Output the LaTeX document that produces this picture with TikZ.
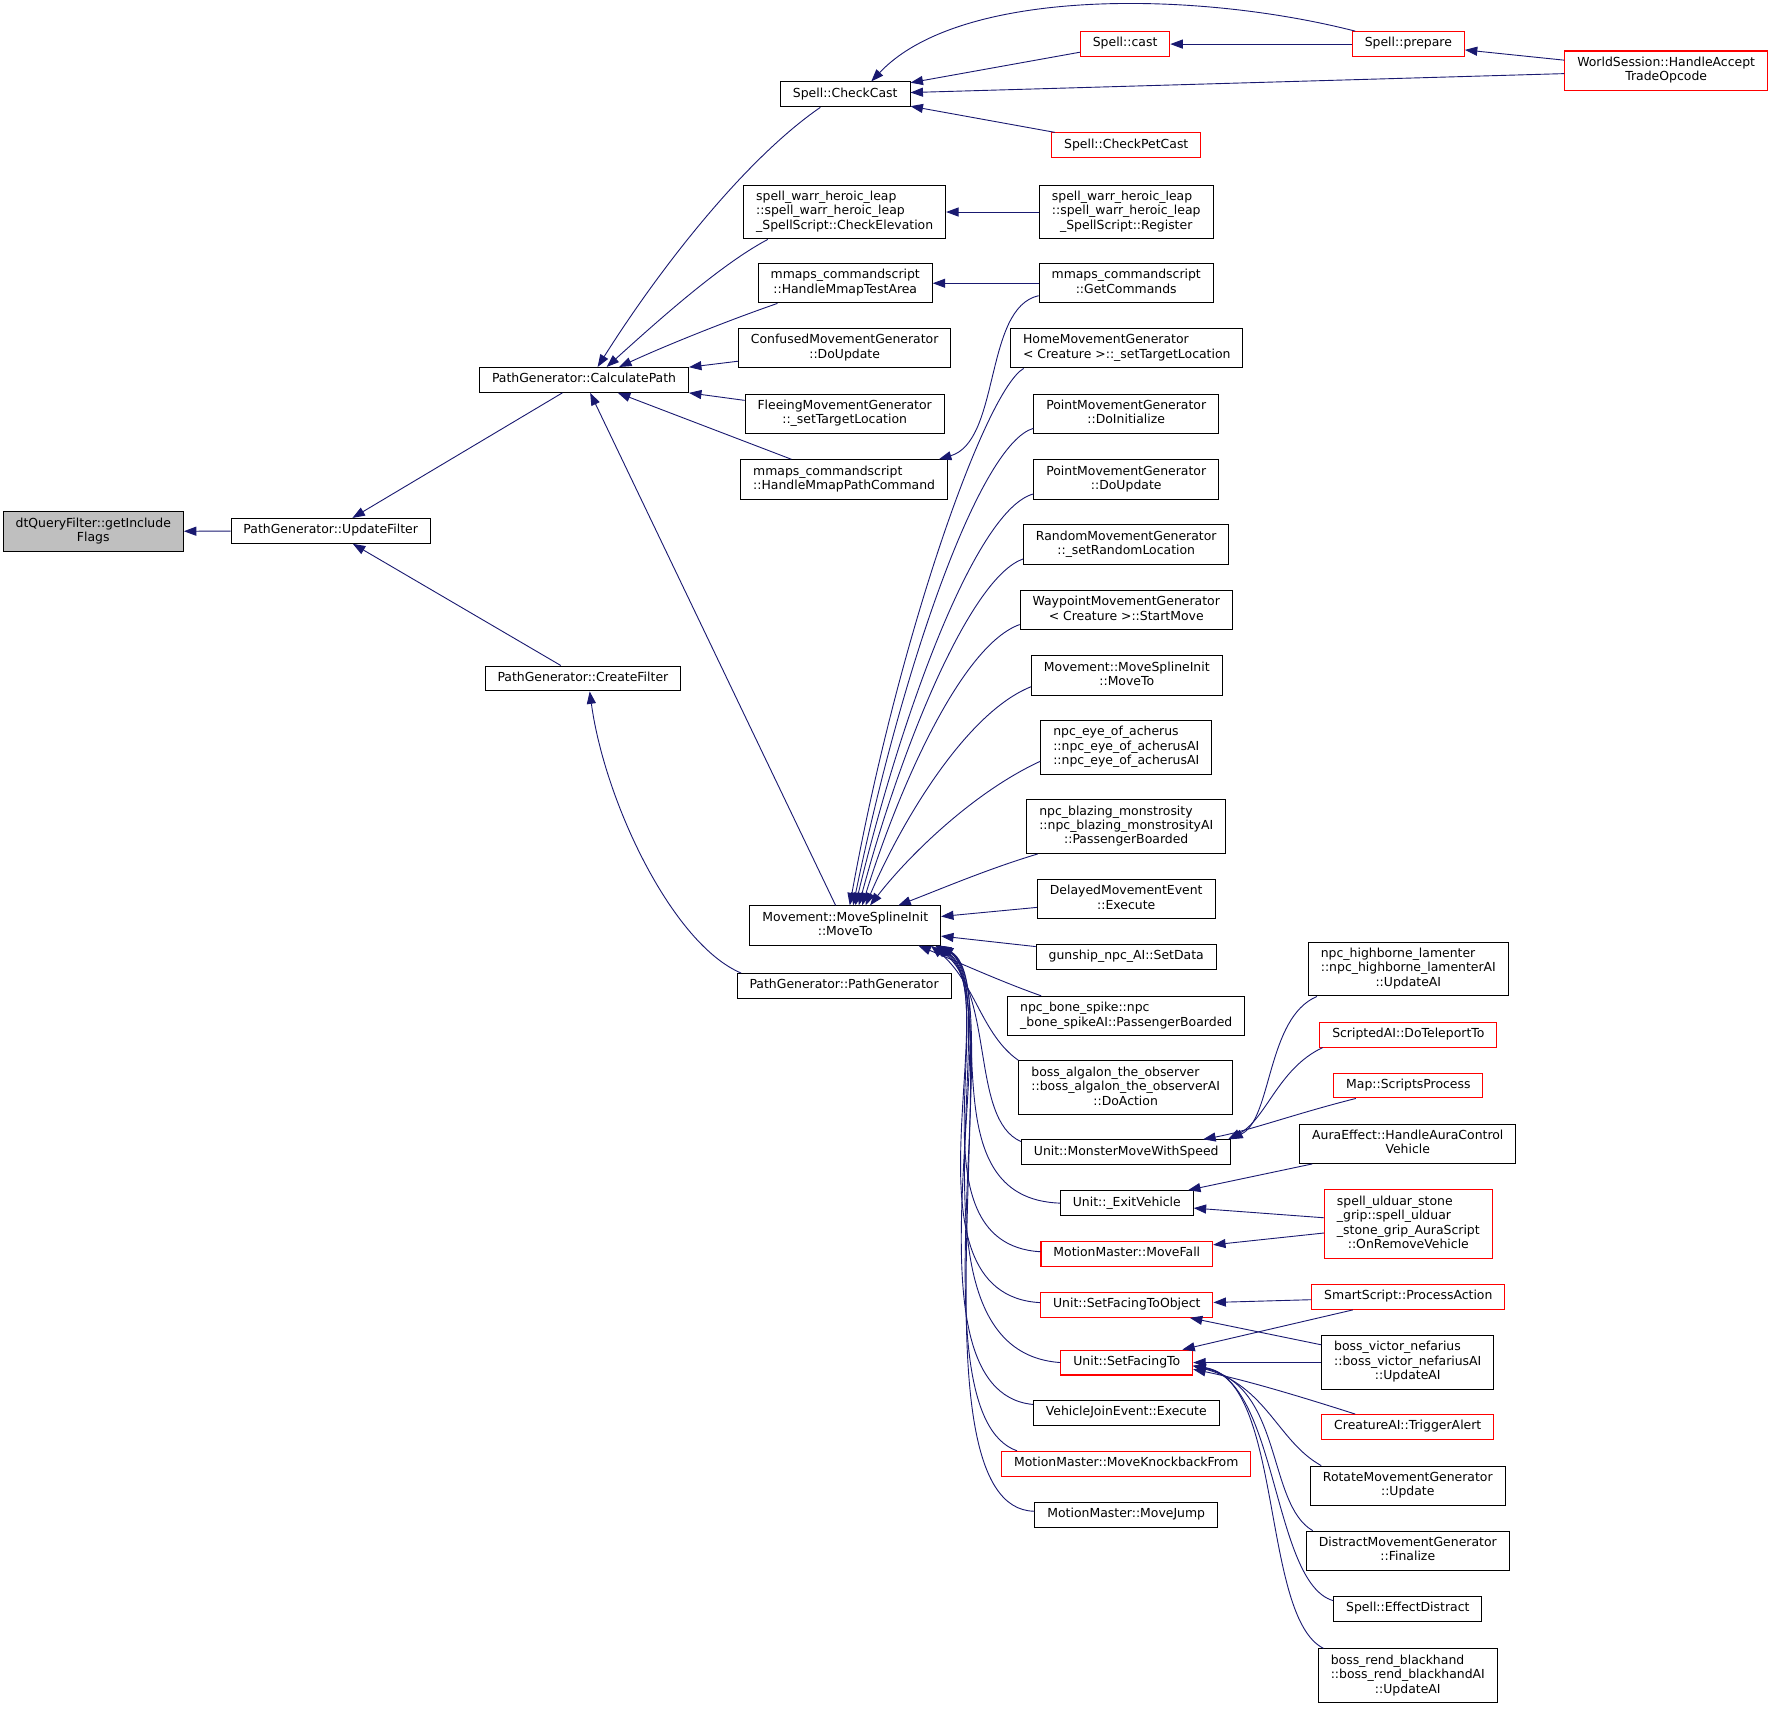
\documentclass[tikz,border=0pt]{standalone}
\usepackage{fontspec}
\setmainfont{DejaVu Sans}
\usetikzlibrary{arrows.meta}
\definecolor{callblue}{HTML}{191970}
\definecolor{rootgray}{HTML}{BFBFBF}
\newcommand{\fnl}[1]{\begin{tabular}{@{}l@{}}#1\end{tabular}}
\newcommand{\lastln}[1]{\multicolumn{1}{@{}c@{}}{#1}}
\begin{document}
\begin{tikzpicture}[x=1pt,y=-1pt]
            \tikzset{fn/.style = {draw=black, line width=0.9pt, fill=white, inner xsep=11pt, inner ysep=4.6pt,
                font=\fontsize{11}{12.8}\selectfont}}
            \tikzset{trunc/.style = {fn, draw=red}}
            \tikzset{root/.style = {fn, fill=rootgray}}
            \tikzset{calls/.style = {draw=callblue, line width=0.8pt, -{Triangle[length=11pt,width=8pt]}}}
            \useasboundingbox (0,0) rectangle (1568,1512);
            % first columns
            \node[root] (getinc) at (82.5,470) {\fnl{dtQueryFilter::getInclude\\\lastln{Flags}}};
            \node[fn] (updfilter) at (292.5,469.5) {\fnl{PathGenerator::UpdateFilter}};
            \node[fn] (calcpath) at (516.5,336) {\fnl{PathGenerator::CalculatePath}};
            \node[fn] (createfilter) at (515.5,600) {\fnl{PathGenerator::CreateFilter}};
            % callers of CalculatePath
            \node[fn] (checkcast) at (747.5,83.5) {\fnl{Spell::CheckCast}};
            \node[fn] (elevation) at (747,187.5) {\fnl{spell\_warr\_heroic\_leap\\::spell\_warr\_heroic\_leap\\\lastln{\_SpellScript::CheckElevation}}};
            \node[fn] (testarea) at (747.5,250.5) {\fnl{mmaps\_commandscript\\\lastln{::HandleMmapTestArea}}};
            \node[fn] (confused) at (747,308) {\fnl{ConfusedMovementGenerator\\\lastln{::DoUpdate}}};
            \node[fn] (fleeing) at (747,366) {\fnl{FleeingMovementGenerator\\\lastln{::\_setTargetLocation}}};
            \node[fn] (pathcmd) at (746.5,424) {\fnl{mmaps\_commandscript\\\lastln{::HandleMmapPathCommand}}};
            \node[fn] (mv) at (747.5,818.5) {\fnl{Movement::MoveSplineInit\\\lastln{::MoveTo}}};
            \node[fn] (pathgen) at (746.5,872) {\fnl{PathGenerator::PathGenerator}};
            % callers of CheckCast
            \node[trunc] (cast) at (995,39) {\fnl{Spell::cast}};
            \node[trunc] (prepare) at (1245.5,39) {\fnl{Spell::prepare}};
            \node[trunc] (accept) at (1473.5,62.5) {\fnl{WorldSession::HandleAccept\\\lastln{TradeOpcode}}};
            \node[trunc] (petcast) at (996,128.5) {\fnl{Spell::CheckPetCast}};
            \node[fn] (register) at (996,187.5) {\fnl{spell\_warr\_heroic\_leap\\::spell\_warr\_heroic\_leap\\\lastln{\_SpellScript::Register}}};
            \node[fn] (getcmds) at (996,250.5) {\fnl{mmaps\_commandscript\\\lastln{::GetCommands}}};
            % callers of MoveTo
            \node[fn] (home) at (996.5,308) {\fnl{HomeMovementGenerator\\\lastln{< Creature >::\_setTargetLocation}}};
            \node[fn] (ptinit) at (996,366) {\fnl{PointMovementGenerator\\\lastln{::DoInitialize}}};
            \node[fn] (ptupd) at (996,424) {\fnl{PointMovementGenerator\\\lastln{::DoUpdate}}};
            \node[fn] (random) at (996,481.5) {\fnl{RandomMovementGenerator\\\lastln{::\_setRandomLocation}}};
            \node[fn] (waypoint) at (996,539.5) {\fnl{WaypointMovementGenerator\\\lastln{< Creature >::StartMove}}};
            \node[fn] (mvto) at (996.5,597.5) {\fnl{Movement::MoveSplineInit\\\lastln{::MoveTo}}};
            \node[fn] (eye) at (996,661) {\fnl{npc\_eye\_of\_acherus\\::npc\_eye\_of\_acherusAI\\\lastln{::npc\_eye\_of\_acherusAI}}};
            \node[fn] (blazing) at (996,731) {\fnl{npc\_blazing\_monstrosity\\::npc\_blazing\_monstrosityAI\\\lastln{::PassengerBoarded}}};
            \node[fn] (delayed) at (996,795) {\fnl{DelayedMovementEvent\\\lastln{::Execute}}};
            \node[fn] (gunship) at (996,846) {\fnl{gunship\_npc\_AI::SetData}};
            \node[fn] (bone) at (996,898.5) {\fnl{npc\_bone\_spike::npc\\\lastln{\_bone\_spikeAI::PassengerBoarded}}};
            \node[fn] (algalon) at (995.5,962) {\fnl{boss\_algalon\_the\_observer\\::boss\_algalon\_the\_observerAI\\\lastln{::DoAction}}};
            \node[fn] (monster) at (996,1019) {\fnl{Unit::MonsterMoveWithSpeed}};
            \node[fn] (exitveh) at (996.5,1064) {\fnl{Unit::\_ExitVehicle}};
            \node[trunc] (movefall) at (996.5,1109) {\fnl{MotionMaster::MoveFall}};
            \node[trunc] (sfto) at (996.5,1154) {\fnl{Unit::SetFacingToObject}};
            \node[trunc] (sft) at (996.5,1205) {\fnl{Unit::SetFacingTo}};
            \node[fn] (vje) at (996,1249.5) {\fnl{VehicleJoinEvent::Execute}};
            \node[trunc] (knock) at (996,1294.5) {\fnl{MotionMaster::MoveKnockbackFrom}};
            \node[fn] (jump) at (996,1339.5) {\fnl{MotionMaster::MoveJump}};
            % last column
            \node[fn] (highborne) at (1245.5,857) {\fnl{npc\_highborne\_lamenter\\::npc\_highborne\_lamenterAI\\\lastln{::UpdateAI}}};
            \node[trunc] (teleport) at (1245.5,915) {\fnl{ScriptedAI::DoTeleportTo}};
            \node[trunc] (scripts) at (1245.5,960) {\fnl{Map::ScriptsProcess}};
            \node[fn] (aura) at (1245,1011.5) {\fnl{AuraEffect::HandleAuraControl\\\lastln{Vehicle}}};
            \node[trunc] (ulduar) at (1245.5,1082.5) {\fnl{spell\_ulduar\_stone\\\_grip::spell\_ulduar\\\_stone\_grip\_AuraScript\\\lastln{::OnRemoveVehicle}}};
            \node[trunc] (smart) at (1245.5,1147) {\fnl{SmartScript::ProcessAction}};
            \node[fn] (victor) at (1245,1205) {\fnl{boss\_victor\_nefarius\\::boss\_victor\_nefariusAI\\\lastln{::UpdateAI}}};
            \node[trunc] (alert) at (1245,1262) {\fnl{CreatureAI::TriggerAlert}};
            \node[fn] (rotate) at (1245,1314) {\fnl{RotateMovementGenerator\\\lastln{::Update}}};
            \node[fn] (distract) at (1245,1371.5) {\fnl{DistractMovementGenerator\\\lastln{::Finalize}}};
            \node[fn] (effdistract) at (1245,1423) {\fnl{Spell::EffectDistract}};
            \node[fn] (rend) at (1245,1482) {\fnl{boss\_rend\_blackhand\\::boss\_rend\_blackhandAI\\\lastln{::UpdateAI}}};
            % calls on the left
            \draw[calls] (updfilter) -- (getinc);
            \draw[calls] (calcpath) -- (updfilter);
            \draw[calls] (createfilter) -- (updfilter);
            \draw[calls] ([xshift=-22pt]checkcast.south) .. controls (660,140) and (585,235) .. ([xshift=12pt]calcpath.north);
            \draw[calls] ([xshift=-68pt]elevation.south) .. controls (635,235) and (575,290) .. ([xshift=20pt]calcpath.north);
            \draw[calls] ([xshift=-60pt]testarea.south) .. controls (645,283) and (590,305) .. ([xshift=31pt]calcpath.north);
            \draw[calls] (confused) -- (calcpath);
            \draw[calls] (fleeing) -- (calcpath.south east);
            \draw[calls] (pathcmd) -- (calcpath);
            \draw[calls] (mv) -- (calcpath);
            \draw[calls] ([xshift=4pt]pathgen.north west) .. controls (595,835) and (535,710) .. ([xshift=6pt]createfilter.south);
            % calls at the top
            \draw[calls] (cast) -- (checkcast);
            \draw[calls] ([xshift=3pt]prepare.north west) .. controls (1060,-8) and (850,-12) .. ([xshift=23pt]checkcast.north);
            \draw[calls] (accept) -- (checkcast);
            \draw[calls] (petcast) -- (checkcast);
            \draw[calls] (prepare) -- (cast);
            \draw[calls] (accept) -- (prepare);
            \draw[calls] (register) -- (elevation);
            \draw[calls] (getcmds) -- (testarea);
            \draw[calls] ([yshift=-11pt]getcmds.west) .. controls (870,272) and (885,390) .. ([xshift=-8pt]pathcmd.north east);
            % calls into MoveTo from above
            \draw[calls] ([xshift=12pt]home.south west) .. controls (872,345) and (795,560) .. ([xshift=4pt]mv.north);
            \draw[calls] ([yshift=5pt]ptinit.south west) .. controls (868,392) and (800,580) .. ([xshift=7pt]mv.north);
            \draw[calls] ([yshift=5pt]ptupd.south west) .. controls (865,450) and (800,620) .. ([xshift=9pt]mv.north);
            \draw[calls] ([yshift=5pt]random.south west) .. controls (860,510) and (800,650) .. ([xshift=12pt]mv.north);
            \draw[calls] ([yshift=5pt]waypoint.south west) .. controls (852,570) and (797,690) .. ([xshift=15pt]mv.north);
            \draw[calls] ([yshift=8pt]mvto.south west) .. controls (855,630) and (798,725) .. ([xshift=18pt]mv.north);
            \draw[calls] ([yshift=12pt]eye.south west) .. controls (862,700) and (805,755) .. ([xshift=22pt]mv.north);
            \draw[calls] ([xshift=10pt]blazing.south west) .. controls (875,768) and (835,785) .. ([xshift=47pt]mv.north);
            \draw[calls] (delayed) -- (mv);
            \draw[calls] (gunship) -- (mv);
            % calls into MoveTo from below
            \draw[calls] ([xshift=30pt]bone.north west) .. controls (885,868) and (850,852) .. ([xshift=-20pt]mv.south east);
            \draw[calls] (algalon.north west) .. controls (868,915) and (862,868) .. ([xshift=-9pt]mv.south east);
            \draw[calls] ([yshift=-2pt]monster.north west) .. controls (858,990) and (880,880) .. ([xshift=-5pt]mv.south east);
            \draw[calls] (exitveh.west) .. controls (820,1060) and (885,880) .. ([xshift=-4pt]mv.south east);
            \draw[calls] ([yshift=2pt]movefall.west) .. controls (800,1100) and (888,880) .. ([xshift=-3pt]mv.south east);
            \draw[calls] ([yshift=2pt]sfto.west) .. controls (790,1145) and (890,880) .. ([xshift=-2pt]mv.south east);
            \draw[calls] (sft.west) .. controls (790,1195) and (892,875) .. ([xshift=-1pt]mv.south east);
            \draw[calls] ([yshift=-4pt]vje.north west) .. controls (790,1230) and (895,875) .. (mv.south east);
            \draw[calls] ([xshift=14pt]knock.north west) .. controls (805,1250) and (895,870) .. ([xshift=-2pt]mv.south east);
            \draw[calls] ([yshift=3pt]jump.west) .. controls (800,1335) and (895,870) .. ([xshift=-3pt]mv.south east);
            % calls on the right
            \draw[calls] ([xshift=8pt]highborne.south west) .. controls (1120,900) and (1125,990) .. ([xshift=-1pt]monster.north east);
            \draw[calls] ([xshift=3pt]teleport.south west) .. controls (1130,945) and (1120,990) .. ([xshift=-3pt]monster.north east);
            \draw[calls] ([xshift=20pt]scripts.south west) .. controls (1145,985) and (1105,1000) .. ([xshift=-25pt]monster.north east);
            \draw[calls] (aura) -- (exitveh);
            \draw[calls] (ulduar) -- (exitveh);
            \draw[calls] (ulduar) -- (movefall);
            \draw[calls] (smart) -- (sfto);
            \draw[calls] (victor) -- (sfto);
            \draw[calls] (smart) -- (sft);
            \draw[calls] (victor) -- (sft);
            \draw[calls] ([xshift=30pt]alert.north west) .. controls (1150,1235) and (1100,1220) .. ([yshift=-6pt]sft.east);
            \draw[calls] ([xshift=10pt]rotate.north west) .. controls (1130,1275) and (1120,1225) .. ([yshift=-3pt]sft.east);
            \draw[calls] ([xshift=6pt]distract.north west) .. controls (1120,1330) and (1135,1225) .. ([yshift=-3pt]sft.east);
            \draw[calls] ([yshift=-4pt]effdistract.north west) .. controls (1125,1400) and (1130,1220) .. ([yshift=-3pt]sft.east);
            \draw[calls] ([xshift=5pt]rend.north west) .. controls (1115,1430) and (1135,1220) .. ([yshift=-3pt]sft.east);
        \end{tikzpicture}
\end{document}
